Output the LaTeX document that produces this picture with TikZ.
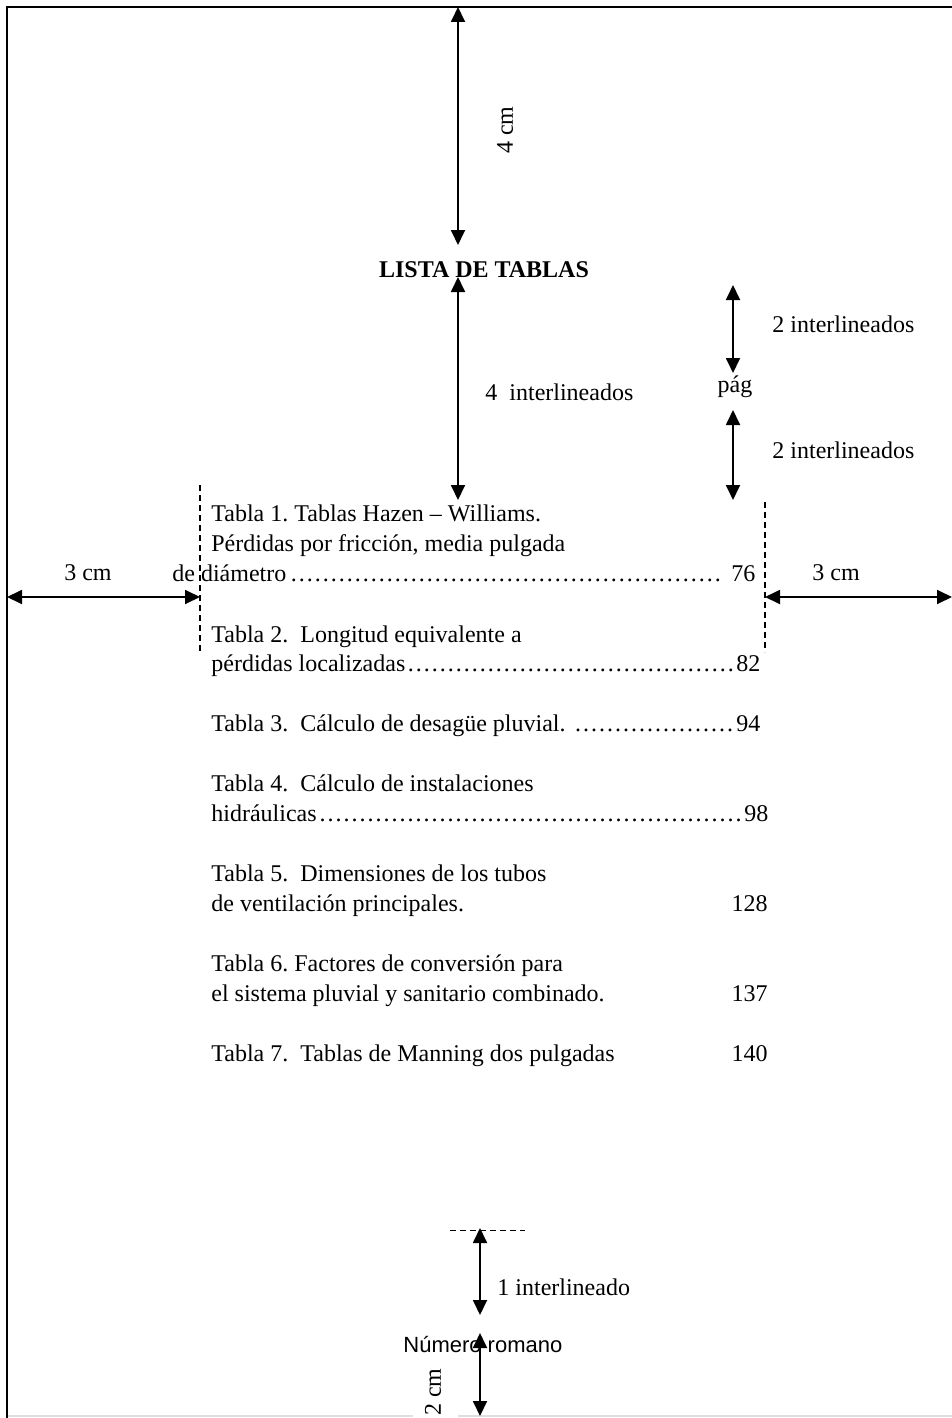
\documentclass[tikz,border=0pt]{standalone}
\usepackage{fontspec}
\setmainfont{Liberation Serif}
\newfontfamily\arialfont{Liberation Sans}
\usetikzlibrary{arrows.meta}
\newcommand{\ldr}{\cleaders\hbox to 4pt{\hss.\hss}\hfill}
\tikzset{
  dimarrow/.style={line width=0.9pt,{Triangle[length=7.5pt,width=7pt]}-{Triangle[length=7.5pt,width=7pt]}},
  txt/.style={inner sep=0pt,anchor=base west},
  lbl/.style={inner sep=0pt},
  guide/.style={line width=0.6pt,dash pattern=on 3pt off 2pt},
  border/.style={line width=1.2pt},
}
\begin{document}
\frenchspacing
\begin{tikzpicture}[x=0.5pt,y=-0.5pt,font=\fontsize{12}{15}\selectfont]
\useasboundingbox (0,0) rectangle (952,1418);
% page border
\coordinate (tl) at (7,7);
\coordinate (tr) at (952,7);
\coordinate (bl) at (7,1418);
\draw[border] (tr) -- (tl) -- (bl);
\coordinate (g1) at (8,1416);
\coordinate (g2) at (413,1416);
\coordinate (g3) at (458,1416);
\coordinate (g4) at (952,1416);
\draw[gray!25,line width=0.8pt] (g1) -- (g2) (g3) -- (g4);
% title
\node[lbl,anchor=base,font=\fontsize{12}{15}\selectfont\bfseries] (title) at (484,277) {LISTA DE TABLAS};
% top arrow
\coordinate (a1t) at (458,7);
\coordinate (a1b) at (458,245);
\draw[dimarrow] (a1t) -- (a1b);
\node[lbl,rotate=90] (c4) at (505,130) {4 cm};
% arrow title to list
\coordinate (a2t) at (458,277);
\coordinate (a2b) at (458,500);
\draw[dimarrow] (a2t) -- (a2b);
\node[txt] (i4) at (485,400) {4\ \ interlineados};
% pag arrows
\node[lbl,anchor=base] (pag) at (735,392) {pág};
\coordinate (p1t) at (733,285);
\coordinate (p1b) at (733,373);
\draw[dimarrow] (p1t) -- (p1b);
\node[txt] (i2a) at (772,332) {2 interlineados};
\coordinate (p2t) at (733,410);
\coordinate (p2b) at (733,500);
\draw[dimarrow] (p2t) -- (p2b);
\node[txt] (i2b) at (772,458) {2 interlineados};
% margins
\coordinate (dl1) at (200,485);
\coordinate (dl2) at (200,653);
\coordinate (dr1) at (765,502);
\coordinate (dr2) at (765,652);
\draw[guide] (dl1) -- (dl2);
\draw[guide] (dr1) -- (dr2);
\coordinate (ml) at (7,597);
\coordinate (mlr) at (200,597);
\coordinate (mr) at (765,597);
\coordinate (mrr) at (952,597);
\draw[dimarrow] (ml) -- (mlr);
\draw[dimarrow] (mr) -- (mrr);
\node[lbl,anchor=base] (cl) at (88,580) {3 cm};
\node[lbl,anchor=base] (cr) at (836,580) {3 cm};
% entries
\node[txt] (t1a) at (211,521) {Tabla 1. Tablas Hazen – Williams.};
\node[txt] (t1b) at (211,551) {Pérdidas por fricción, media pulgada};
\node[txt] (t1c) at (172,581) {\makebox[291.5pt][l]{de diámetro\ldr\ 76}};
\node[txt] (t2a) at (211,642) {Tabla 2.\ \ Longitud equivalente a};
\node[txt] (t2b) at (211,671) {\makebox[274.5pt][l]{pérdidas localizadas\ldr 82}};
\node[txt] (t3) at (211,731) {\makebox[274.5pt][l]{Tabla 3.\ \ Cálculo de desagüe pluvial. \ldr 94}};
\node[txt] (t4a) at (211,791) {Tabla 4.\ \ Cálculo de instalaciones};
\node[txt] (t4b) at (211,821) {\makebox[278.5pt][l]{hidráulicas\ldr 98}};
\node[txt] (t5a) at (211,881) {Tabla 5.\ \ Dimensiones de los tubos};
\node[txt] (t5b) at (211,911) {de ventilación principales.};
\node[lbl,anchor=base east] (n5) at (768,911) {128};
\node[txt] (t6a) at (211,971) {Tabla 6. Factores de conversión para};
\node[txt] (t6b) at (211,1001) {el sistema pluvial y sanitario combinado.};
\node[lbl,anchor=base east] (n6) at (768,1001) {137};
\node[txt] (t7) at (211,1061) {Tabla 7.\ \ Tablas de Manning dos pulgadas};
\node[lbl,anchor=base east] (n7) at (768,1061) {140};
% bottom
\coordinate (bd1) at (450,1230);
\coordinate (bd2) at (525,1230);
\draw[line width=0.5pt,dash pattern=on 3pt off 2pt] (bd1) -- (bd2);
\coordinate (b1t) at (480,1228);
\coordinate (b1b) at (480,1315);
\draw[dimarrow] (b1t) -- (b1b);
\node[txt] (i1) at (497,1295) {1 interlineado};
\node[txt,font=\arialfont\fontsize{11}{13}\selectfont] (nr) at (403,1352) {Número romano};
\coordinate (b2t) at (480,1333);
\coordinate (b2b) at (480,1416);
\draw[dimarrow] (b2t) -- (b2b);
\node[lbl,rotate=90] (c2) at (433,1392) {2 cm};
\end{tikzpicture}
\end{document}
